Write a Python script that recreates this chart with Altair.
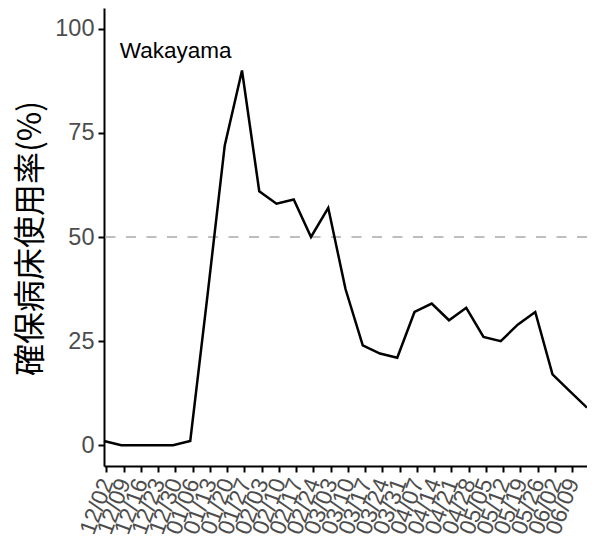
import altair as alt
import pandas as pd

# weekly observation dates
dates = ["2020-12-01", "2020-12-08", "2020-12-15", "2020-12-22", "2020-12-29",
         "2021-01-05", "2021-01-12", "2021-01-19", "2021-01-26", "2021-02-02",
         "2021-02-09", "2021-02-16", "2021-02-23", "2021-03-02", "2021-03-09",
         "2021-03-16", "2021-03-23", "2021-03-30", "2021-04-06", "2021-04-13",
         "2021-04-20", "2021-04-27", "2021-05-04", "2021-05-11", "2021-05-18",
         "2021-05-25", "2021-06-01", "2021-06-08", "2021-06-15"]
# bed occupancy (%)
values = [1, 0, 0, 0, 0, 1, 36, 72, 90, 61, 58, 59, 50, 57, 37.5, 24, 22, 21,
          32, 34, 30, 33, 26, 25, 29, 32, 17, 13, 9]
# x tick dates and labels
tick_dates = ["2020-12-02", "2020-12-09", "2020-12-16", "2020-12-23", "2020-12-30",
              "2021-01-06", "2021-01-13", "2021-01-20", "2021-01-27", "2021-02-03",
              "2021-02-10", "2021-02-17", "2021-02-24", "2021-03-03", "2021-03-10",
              "2021-03-17", "2021-03-24", "2021-03-31", "2021-04-07", "2021-04-14",
              "2021-04-21", "2021-04-28", "2021-05-05", "2021-05-12", "2021-05-19",
              "2021-05-26", "2021-06-02", "2021-06-09"]
tick_labels = ["12/02", "12/09", "12/16", "12/23", "12/30", "01/06", "01/13", "01/20",
               "01/27", "02/03", "02/10", "02/17", "02/24", "03/03", "03/10", "03/17",
               "03/24", "03/31", "04/07", "04/14", "04/21", "04/28", "05/05", "05/12",
               "05/19", "05/26", "06/02", "06/09"]
y_ticks = [0, 25, 50, 75, 100]
threshold = 50
region = "Wakayama"
y_title = "確保病床使用率(%)"

origin = pd.Timestamp(dates[0])
day = [(pd.Timestamp(d) - origin).days for d in dates]
tick_day = [(pd.Timestamp(d) - origin).days for d in tick_dates]
df = pd.DataFrame({"day": day, "value": values})

label_map = "{" + ",".join(f"'{t}':'{l}'" for t, l in zip(tick_day, tick_labels)) + "}"
label_expr = label_map + "[datum.value + '']"

x_dom = [day[0], day[-1]]

xscale = alt.Scale(domain=x_dom, nice=False, zero=False)
yscale = alt.Scale(domain=[-5, 105], nice=False, zero=False)

x_axis = alt.Axis(values=tick_day, tickCount=len(tick_day) + 2, labelExpr=label_expr,
                  title=None, grid=False,
                  labelAngle=290, labelAlign="right", labelBaseline="middle",
                  labelFont="Liberation Sans", labelFontSize=23, labelColor="#4D4D4D",
                  labelPadding=7, labelOverlap=False, tickSize=6, tickWidth=2,
                  tickColor="black", domainColor="black", domainWidth=2)
y_axis = alt.Axis(values=y_ticks, title=y_title, grid=False,
                  labelFont="Liberation Sans", labelFontSize=23.5, labelColor="#4D4D4D",
                  labelPadding=4, tickSize=6, tickWidth=2, tickColor="black",
                  domainColor="black", domainWidth=2,
                  titleFont="Noto Sans CJK JP", titleFontSize=32, titleFontWeight="normal",
                  titleColor="black", titleX=-74, titleY=230, titleAngle=270,
                  titleAlign="center", titleBaseline="middle")

line = alt.Chart(df).mark_line(color="black", strokeWidth=2.5).encode(
    x=alt.X("day:Q", scale=xscale, axis=x_axis),
    y=alt.Y("value:Q", scale=yscale, axis=y_axis),
)

rule = alt.Chart(pd.DataFrame({"y": [threshold]})).mark_rule(
    color="#BEBEBE", strokeWidth=2, strokeDash=[10, 10.5]
).encode(y=alt.Y("y:Q", scale=yscale))

ann = alt.Chart(pd.DataFrame({"day": [6.4], "value": [93], "t": [region]})).mark_text(
    align="left", baseline="alphabetic", font="Liberation Sans", fontSize=22.5, color="black"
).encode(x=alt.X("day:Q", scale=xscale), y=alt.Y("value:Q", scale=yscale), text="t:N")

chart = alt.layer(rule, line, ann).properties(
    width=483, height=458,
    autosize=alt.AutoSizeParams(type="none"),
    padding={"left": 96, "top": 0, "right": 0, "bottom": 80},
).configure_view(stroke=None)

chart.save("out.html", embed_options={"renderer": "svg", "actions": False})
